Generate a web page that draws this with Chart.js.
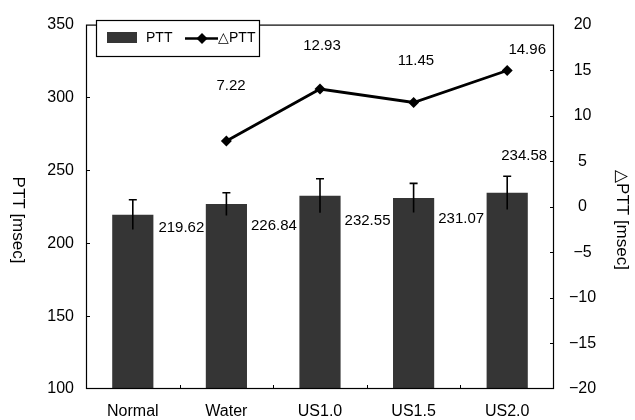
<!DOCTYPE html>
<html><head><meta charset="utf-8">
<script src="https://cdn.jsdelivr.net/npm/chart.js@4"></script>
<style>html,body{margin:0;padding:0;background:#fff;}</style>
</head><body>
<canvas id="c" width="635" height="420"></canvas>
<script>
// ---- data ----
const categories = ['Normal', 'Water', 'US1.0', 'US1.5', 'US2.0'];
const pttValues = [219.62, 226.84, 232.55, 231.07, 234.58];
const pttErrors = [10.2, 7.8, 11.7, 10.0, 11.4];
const deltaValues = [null, 7.22, 12.93, 11.45, 14.96];
const leftAxis = { min: 100, max: 350, step: 50 };
const rightAxis = { min: -20, max: 20, step: 5 };
const leftTitle = 'PTT [msec]';
const rightTitle = '\u25B3PTT [msec]';
const legendLabels = ['PTT', '\u25B3PTT'];

// ---- style ----
const FONT = "'Liberation Sans', Arial, Helvetica, sans-serif";
const BAR_COLOR = '#353535';
const barLabelStyle = [
  { dx: 5, dy: 13.5, align: 'left' },
  { dx: 4, dy: 22, align: 'left' },
  { dx: 4, dy: 25, align: 'left' },
  { dx: 4, dy: 21, align: 'left' },
  { dx: 17, dy: -37, align: 'center', fromCenter: true }
];
const lineLabelStyle = [null,
  { dx: 4.6, dy: -55.5 }, { dx: 2, dy: -43 }, { dx: 2.4, dy: -42 }, { dx: 20, dy: -21 }];

const extras = {
  id: 'extras',
  afterDatasetsDraw(chart) {
    const ctx = chart.ctx, a = chart.chartArea;
    const y = chart.scales.y, y1 = chart.scales.y1;
    ctx.save();
    // error bars
    const barMeta = chart.getDatasetMeta(0);
    ctx.strokeStyle = '#000'; ctx.lineWidth = 1.6;
    barMeta.data.forEach((el, i) => {
      const top = y.getPixelForValue(pttValues[i] + pttErrors[i]);
      const bot = y.getPixelForValue(pttValues[i] - pttErrors[i]);
      ctx.beginPath();
      ctx.moveTo(el.x, bot); ctx.lineTo(el.x, top);
      ctx.moveTo(el.x - 4, top); ctx.lineTo(el.x + 4, top);
      ctx.stroke();
    });
    // frame
    ctx.lineWidth = 1.2;
    ctx.strokeRect(a.left + 0.5, a.top + 0.5, a.right - a.left - 1, a.bottom - a.top - 1);
    // inward ticks
    ctx.lineWidth = 1;
    ctx.beginPath();
    y.ticks.forEach(t => {
      if (t.value === leftAxis.min || t.value === leftAxis.max) return;
      const p = Math.round(y.getPixelForValue(t.value)) + 0.5;
      ctx.moveTo(a.left, p); ctx.lineTo(a.left + 4, p);
    });
    y1.ticks.forEach(t => {
      if (t.value === rightAxis.min || t.value === rightAxis.max) return;
      const p = Math.round(y1.getPixelForValue(t.value)) + 0.5;
      ctx.moveTo(a.right, p); ctx.lineTo(a.right - 4, p);
    });
    const cw = (a.right - a.left) / categories.length;
    for (let k = 1; k < categories.length; k++) {
      const p = Math.round(a.left + k * cw) + 0.5;
      ctx.moveTo(p, a.bottom); ctx.lineTo(p, a.bottom - 4);
    }
    ctx.stroke();
    // bar value labels
    ctx.fillStyle = '#000';
    ctx.font = '15px ' + FONT;
    ctx.textBaseline = 'middle';
    barMeta.data.forEach((el, i) => {
      const s = barLabelStyle[i];
      const bx = s.fromCenter ? el.x : el.x + el.width / 2;
      ctx.textAlign = s.align;
      ctx.fillText(pttValues[i].toFixed(2), bx + s.dx, el.y + s.dy);
    });
    // line value labels
    const lineMeta = chart.getDatasetMeta(1);
    ctx.textAlign = 'center';
    lineMeta.data.forEach((el, i) => {
      if (deltaValues[i] === null) return;
      const s = lineLabelStyle[i];
      ctx.fillText(deltaValues[i].toFixed(2), el.x + s.dx, el.y + s.dy);
    });
    // axis titles (rotated clockwise)
    ctx.font = '17px ' + FONT;
    [[18, 220, leftTitle], [622, 220, rightTitle]].forEach(([tx, ty, txt]) => {
      ctx.save(); ctx.translate(tx, ty); ctx.rotate(Math.PI / 2);
      ctx.textAlign = 'center'; ctx.textBaseline = 'middle';
      ctx.fillText(txt, 0, 0); ctx.restore();
    });
    // legend
    ctx.fillStyle = '#fff';
    ctx.fillRect(96, 20, 163, 36);
    ctx.strokeStyle = '#000'; ctx.lineWidth = 1.2;
    ctx.strokeRect(96.5, 20.5, 163, 36);
    ctx.fillStyle = BAR_COLOR;
    ctx.fillRect(107, 32, 30, 11);
    ctx.fillStyle = '#000';
    ctx.font = '14px ' + FONT;
    ctx.textAlign = 'left'; ctx.textBaseline = 'middle';
    ctx.fillText(legendLabels[0], 146, 38.5);
    ctx.lineWidth = 2.5;
    ctx.beginPath(); ctx.moveTo(185, 38.5); ctx.lineTo(218, 38.5); ctx.stroke();
    ctx.beginPath();
    ctx.moveTo(202, 33); ctx.lineTo(207.5, 38.5); ctx.lineTo(202, 44); ctx.lineTo(196.5, 38.5);
    ctx.closePath(); ctx.fill();
    ctx.fillText(legendLabels[1], 218, 38.5);
    ctx.restore();
  }
};

const tickFont = { family: FONT, size: 16 };
new Chart(document.getElementById('c'), {
  data: {
    labels: categories,
    datasets: [
      { type: 'bar', data: pttValues, yAxisID: 'y', backgroundColor: BAR_COLOR,
        categoryPercentage: 1, barPercentage: 0.44, order: 2 },
      { type: 'line', data: deltaValues, yAxisID: 'y1', borderColor: '#000', borderWidth: 2.8,
        pointStyle: 'rectRot', pointRadius: 5.5, pointBackgroundColor: '#000', pointBorderColor: '#000',
        pointBorderWidth: 0, tension: 0, order: 1 }
    ]
  },
  options: {
    responsive: false, animation: false,
    layout: { padding: { top: 14, left: 0, right: 0, bottom: 0 } },
    plugins: { legend: { display: false }, tooltip: { enabled: false } },
    scales: {
      x: { grid: { display: false, drawTicks: false }, border: { display: false },
        ticks: { color: '#000', font: tickFont, padding: 13 },
        afterFit: s => { s.height = 31; } },
      y: { position: 'left', min: leftAxis.min, max: leftAxis.max,
        grid: { display: false, drawTicks: false }, border: { display: false },
        ticks: { stepSize: leftAxis.step, color: '#000', font: tickFont, padding: 12 },
        afterFit: s => { s.width = 86; } },
      y1: { position: 'right', min: rightAxis.min, max: rightAxis.max,
        grid: { display: false, drawTicks: false }, border: { display: false },
        ticks: { stepSize: rightAxis.step, color: '#000', font: tickFont, padding: 15, crossAlign: 'center',
          callback: v => v < 0 ? '\u2212' + Math.abs(v) : String(v) },
        afterFit: s => { s.width = 81; } }
    }
  },
  plugins: [extras]
});
</script>
</body></html>
